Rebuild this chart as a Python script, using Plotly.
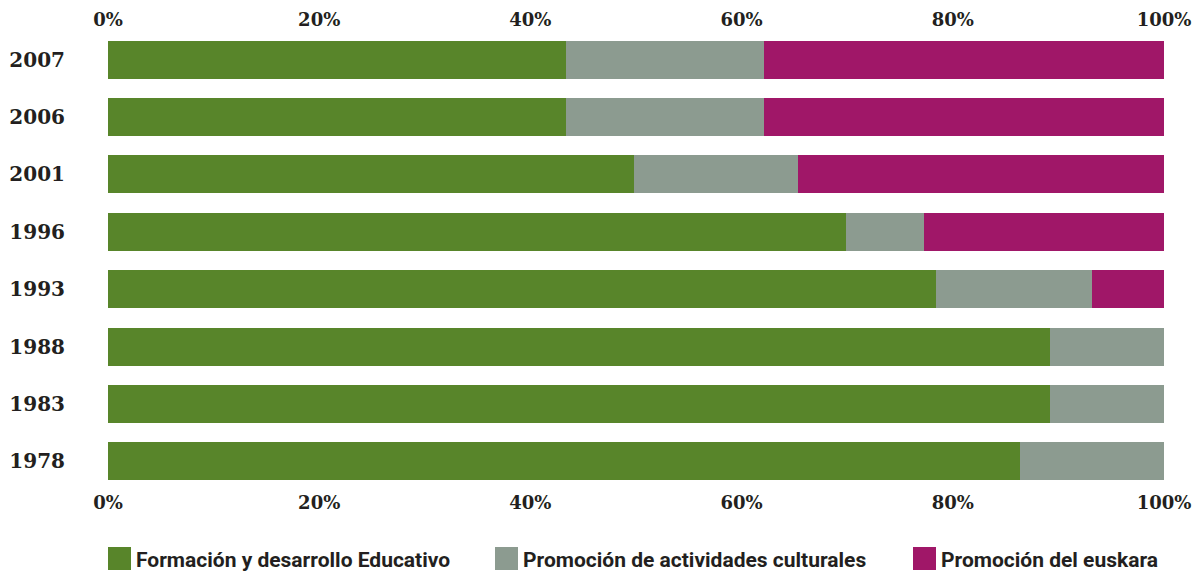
import plotly.graph_objects as go

years = ["1978", "1983", "1988", "1993", "1996", "2001", "2006", "2007"]
series_names = ["Formación y desarrollo Educativo", "Promoción de actividades culturales", "Promoción del euskara"]
formacion = [86.4, 89.2, 89.2, 78.4, 69.9, 49.8, 43.4, 43.4]
cultura = [13.6, 10.8, 10.8, 14.8, 7.4, 15.5, 18.7, 18.7]
euskara = [0.0, 0.0, 0.0, 6.8, 22.7, 34.7, 37.9, 37.9]
colors = ["#58852A", "#8C9B90", "#A01768"]
tick_vals = [0, 20, 40, 60, 80, 100]
tick_text = ["0%", "20%", "40%", "60%", "80%", "100%"]

fig = go.Figure()
for name, vals, col in zip(series_names, [formacion, cultura, euskara], colors):
    fig.add_trace(go.Bar(y=years, x=vals, name=name, orientation="h",
                         marker=dict(color=col, line=dict(width=0)),
                         showlegend=False, hoverinfo="x+y+name"))

# invisible helper trace so that the top axis renders
fig.add_trace(go.Scatter(y=years, x=[0] * len(years), xaxis="x2", mode="markers",
                         marker=dict(opacity=0, size=1), showlegend=False, hoverinfo="skip"))

W, H = 1195, 573
ml, mr, mt, mb = 108, 31, 31, 83
pw = W - ml - mr
ph = H - mt - mb

def px2paper_x(px):
    return (px - ml) / pw

def px2paper_y(py):
    return (H - mb - py) / ph

tick_font = dict(family="DejaVu Serif", size=18, color="#231F20", weight="bold")

fig.update_layout(
    width=W, height=H,
    margin=dict(l=ml, r=mr, t=mt, b=mb, pad=0, autoexpand=False),
    paper_bgcolor="white", plot_bgcolor="white",
    barmode="stack", bargap=0.338,
    xaxis=dict(range=[0, 100], tickvals=tick_vals, ticktext=tick_text,
               showgrid=False, zeroline=False, showline=False, ticks="",
               tickfont=tick_font, fixedrange=True, automargin=False),
    xaxis2=dict(range=[0, 100], tickvals=tick_vals, ticktext=tick_text,
                overlaying="x", side="top", anchor="y",
                showgrid=False, zeroline=False, showline=False, ticks="",
                tickfont=tick_font, fixedrange=True, automargin=False),
    yaxis=dict(type="category", categoryorder="array", categoryarray=years,
               range=[-0.5, len(years) - 0.5], automargin=False,
               showgrid=False, zeroline=False, showline=False,
               ticks="outside", ticklen=38, tickcolor="rgba(0,0,0,0)",
               tickfont=dict(family="DejaVu Serif", size=20, color="#231F20", weight="bold")),
    showlegend=False,
)

# manual legend
legend_px = [108, 495, 913]
sq = 23
top = 547
for name, col, lx in zip(series_names, colors, legend_px):
    fig.add_shape(type="rect", xref="paper", yref="paper",
                  x0=px2paper_x(lx), x1=px2paper_x(lx + sq),
                  y0=px2paper_y(top + sq), y1=px2paper_y(top),
                  fillcolor=col, line=dict(width=0))
    fig.add_annotation(xref="paper", yref="paper", x=px2paper_x(lx + sq + 3),
                       y=px2paper_y(top + sq / 2 + 1), xanchor="left", yanchor="middle",
                       text=name, showarrow=False,
                       font=dict(family="Roboto", size=21, color="#231F20", weight="bold"))

fig.write_html("out.html")
